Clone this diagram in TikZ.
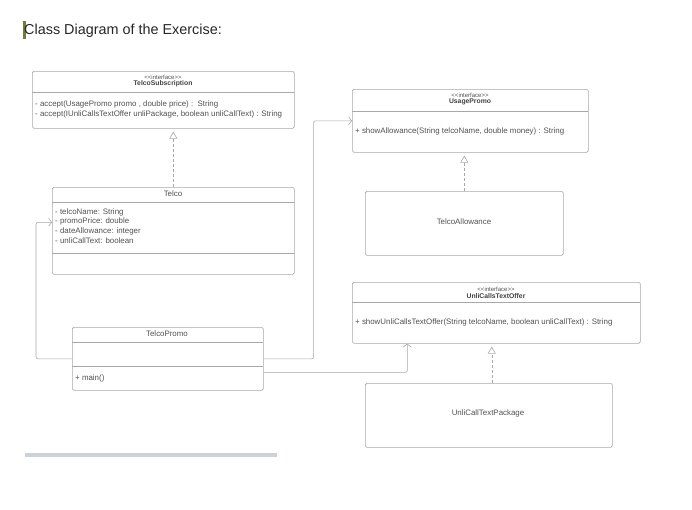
\documentclass[tikz,border=0pt]{standalone}
\usepackage{fontspec}
\setmainfont{Liberation Sans}
\usetikzlibrary{arrows.meta,positioning}
\definecolor{boxline}{HTML}{A8A8A8}
\definecolor{txt}{HTML}{505050}
\definecolor{barcol}{HTML}{CDD1D8}
\definecolor{cursor}{HTML}{6E7C3C}
\newcommand{\stereotxt}{{<}{<}interface{>}{>}}
\tikzset{
	cls/.style={draw=boxline,line width=.6pt,rounded corners=1.5pt,inner sep=0pt,anchor=north west},
	member/.style={inner sep=0pt,anchor=west,text=txt,font=\fontsize{7.9}{9}\selectfont},
	cname/.style={inner sep=0pt,text=txt,font=\fontsize{7.9}{9}\selectfont},
	stereo/.style={inner sep=0pt,text=txt,font=\fontsize{6}{7}\selectfont},
	iname/.style={inner sep=0pt,text=txt!80!black,font=\fontsize{6.8}{8}\selectfont\bfseries},
	realize/.style={boxline,line width=.6pt,dash pattern=on 3pt off 2pt,-{Triangle[open,length=7pt,width=8pt]},shorten >=3pt},
	assoc/.style={boxline,line width=.6pt,rounded corners=2pt,-{Straight Barb[length=3pt,width=8pt]}}
}
\begin{document}
\begin{tikzpicture}[x=1pt,y=-1pt,line join=round]
	\useasboundingbox (0,0) rectangle (692,509) ;
	\fill[cursor] (23,21) rectangle (25.5,39) ;
	\node[inner sep=0pt,anchor=west,text=black!85,font=\fontsize{14.4}{16}\selectfont] (title) at (24,31) {Class Diagram of the Exercise:} ;
	\node[cls,minimum width=262pt,minimum height=57pt] (ts) at (32,71) {} ;
	\node[cls,minimum width=236pt,minimum height=63pt] (up) at (352,89) {} ;
	\node[cls,minimum width=242pt,minimum height=87pt] (telco) at (52,187) {} ;
	\node[cls,minimum width=198pt,minimum height=64pt] (ta) at (365,191) {} ;
	\node[cls,minimum width=288pt,minimum height=61pt] (uo) at (352,282) {} ;
	\node[cls,minimum width=247pt,minimum height=64pt] (ut) at (365,383) {} ;
	\node[cls,minimum width=191pt,minimum height=63pt] (tp) at (72,327) {} ;
	\foreach \a/\b/\y in {32/294/92,352/588/111,52/294/202,52/294/253,352/640/302,72/263/342,72/263/366}
		\draw[boxline,line width=.6pt] (\a,\y) -- (\b,\y) ;
	\node[stereo] (tss) at (163,77) {\stereotxt} ;
	\node[iname] (tsn) at (163,84) {TelcoSubscription} ;
	\node[member] (ts1) at (35,104) {- accept(UsagePromo promo , double price) :\ \ String} ;
	\node[member] (ts2) at (35,114) {- accept(IUnliCallsTextOffer unliPackage, boolean unliCallText) : String} ;
	\node[stereo] (ups) at (470,95) {\stereotxt} ;
	\node[iname] (upn) at (470,102) {UsagePromo} ;
	\node[member] (up1) at (355,131) {+ showAllowance(String telcoName, double money) : String} ;
	\node[cname] (telcon) at (173,194) {Telco} ;
	\foreach \t [count=\i] in {telcoName: String,promoPrice: double,dateAllowance: integer,unliCallText: boolean}
		\node[member] (telco\i) at (55,202.5+9.5*\i) {- \t} ;
	\node[cname] (tan) at (464,222) {TelcoAllowance} ;
	\node[stereo] (uos) at (496,289) {\stereotxt} ;
	\node[iname] (uon) at (496,296) {UnliCallsTextOffer} ;
	\node[member] (uo1) at (355,322) {+ showUnliCallsTextOffer(String telcoName, boolean unliCallText) : String} ;
	\node[cname] (utn) at (488,413) {UnliCallTextPackage} ;
	\node[cname] (tpn) at (167,334) {TelcoPromo} ;
	\node[member] (tp1) at (75,378) {+ main()} ;
	\draw[realize] (telco.north) -- (telco.north |- ts.south) ;
	\draw[realize] (ta.north) -- (ta.north |- up.south) ;
	\draw[realize] ([xshift=3pt]ut.north) -- ([xshift=3pt]ut.north |- uo.south) ;
	\draw[assoc] (tp.west) -- ++(-36,0) |- ([yshift=8.5pt]telco.west) ;
	\draw[assoc] (tp.east) -- ++(50,0) |- (up.west) ;
	\draw[assoc] ([yshift=-13.5pt]tp.east) -| ([xshift=-89pt]uo.south) ;
	\fill[barcol] (25,453) rectangle (277,457) ;
\end{tikzpicture}
\end{document}
